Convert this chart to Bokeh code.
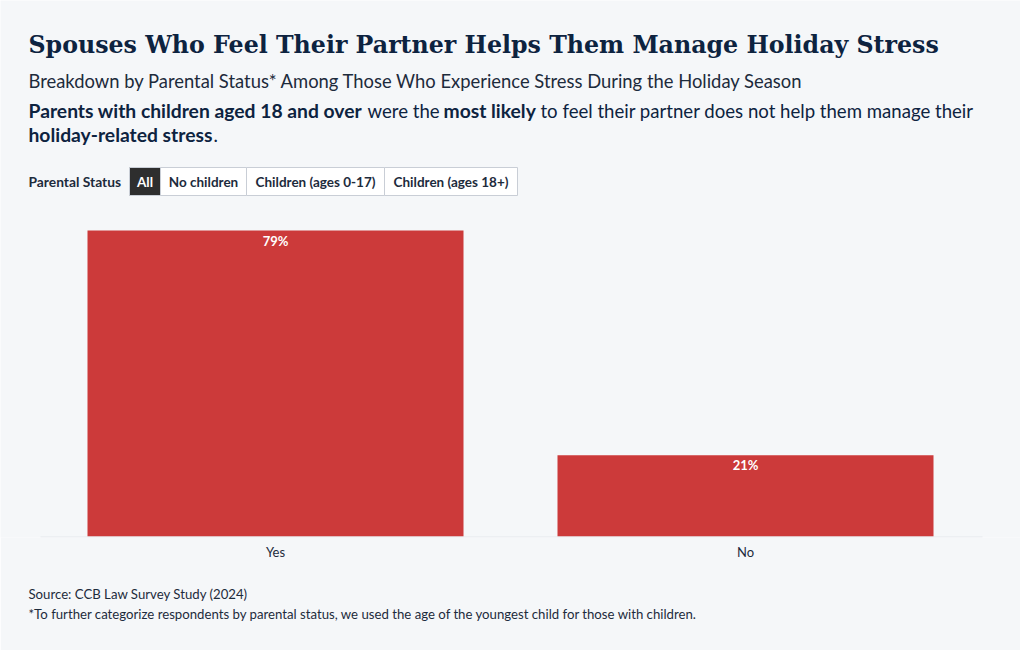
from bokeh.plotting import figure
from bokeh.models import (ColumnDataSource, FactorRange, Range1d, LabelSet, Title,
                          LinearScale)
from bokeh.core.properties import value
from bokeh.embed import file_html
from bokeh.resources import INLINE

# ---- data ----
categories = ["Yes", "No"]
values = [79, 21]
value_labels = ["79%", "21%"]
filter_options = ["All", "No children", "Children (ages 0-17)", "Children (ages 18+)"]

title_text = "Spouses Who Feel Their Partner Helps Them Manage Holiday Stress"
subtitle_text = "Breakdown by Parental Status* Among Those Who Experience Stress During the Holiday Season"
source_text = "Source: CCB Law Survey Study (2024)"
note_text = "*To further categorize respondents by parental status, we used the age of the youngest child for those with children."

BG = "#f5f7f9"
NAVY = "#0d2340"
TEXT = "#1d2b3c"
BAR = "#cc3a3a"
SANS = "Lato"
SERIF = "DejaVu Serif"

W, H = 1020, 650
BASE = 536          # baseline of bars (image px)
FB = 537            # frame bottom (image px)
PX_PER_UNIT = 3.873
CAT_LEFT, CAT_W = 40, 470   # category band start and width (px)

p = figure(width=W, height=H,
           x_range=FactorRange(*categories, range_padding=CAT_LEFT / CAT_W,
                               range_padding_units="percent"),
           y_range=Range1d(-(FB - BASE) / PX_PER_UNIT, BASE / PX_PER_UNIT),
           output_backend="svg", toolbar_location=None,
           min_border_left=0, min_border_right=0, min_border_top=0,
           min_border_bottom=H - FB)
p.extra_y_ranges = {"px": Range1d(FB, 0)}
p.extra_y_scales = {"px": LinearScale()}
p.background_fill_color = BG
p.border_fill_color = BG
p.outline_line_color = None
p.xgrid.visible = False
p.ygrid.visible = False
p.yaxis.visible = False


def sx(X):
    """image px -> synthetic categorical coordinate"""
    return (X - CAT_LEFT) / CAT_W


src = ColumnDataSource(dict(cat=categories, val=values, lbl=value_labels))
p.vbar(x="cat", top="val", width=0.8, source=src, fill_color=BAR, line_color=None)
p.add_layout(LabelSet(x="cat", y="val", text="lbl", source=src, y_offset=-2,
                      text_align="center", text_baseline="top", text_color="white",
                      text_font=value(SANS), text_font_style="bold",
                      text_font_size="13px"))

ax = p.xaxis[0]
ax.axis_line_color = None
ax.major_tick_line_color = None
ax.minor_tick_line_color = None
ax.major_tick_out = 0
ax.major_label_standoff = 6
ax.major_label_text_font = SANS
ax.major_label_text_font_size = "13px"
ax.major_label_text_color = TEXT

# faint baseline
p.segment(x0=[sx(40)], x1=[sx(982)], y0=[BASE + 0.5], y1=[BASE + 0.5],
          line_color="#e3e6ea", line_width=1, y_range_name="px")


def lab(text, X, Y, size, bold=False, color=TEXT, font=SANS, align="left"):
    p.text(x=[sx(X)], y=[Y], text=[text], text_font=value(font),
           text_font_size=f"{size}px", text_font_style="bold" if bold else "normal",
           text_color=color, text_align=align, text_baseline="middle",
           y_range_name="px")


lab(title_text, 28, 44, 23.7, True, NAVY, SERIF)
lab(subtitle_text, 28, 80, 18.4, False, TEXT)
# rich annotation
lab("Parents with children aged 18 and over", 28, 110, 19.3, True, NAVY)
lab("were the", 367, 110, 18.6, False, NAVY)
lab("most likely", 443, 110, 19.3, True, NAVY)
lab("to feel their partner does not help them manage their", 540, 110, 18.6, False, NAVY)
lab("holiday-related stress", 28, 134, 19.3, True, NAVY)
lab(".", 213, 134, 18.6, False, NAVY)

# filter buttons
lab("Parental Status", 28, 181, 13.8, True, TEXT)
edges = [129, 160, 246, 384, 517]
p.quad(left=[sx(e) for e in edges[:-1]], right=[sx(e) for e in edges[1:]],
       top=[167] * 4, bottom=[195] * 4,
       fill_color=["#2e2e2e", "white", "white", "white"], line_color="#c9ced6",
       line_width=1, y_range_name="px")
for i, name in enumerate(filter_options):
    lab(name, (edges[i] + edges[i + 1]) / 2, 181, 13.5, True,
        "white" if i == 0 else TEXT, align="center")

# footer
p.add_layout(Title(text=source_text + "\n" + note_text, align="left", offset=28,
                   standoff=42, text_font=SANS, text_font_size="13.2px",
                   text_font_style="normal", text_line_height=1.3,
                   text_color=TEXT), "below")

open("out.html", "w").write(file_html(p, INLINE))
